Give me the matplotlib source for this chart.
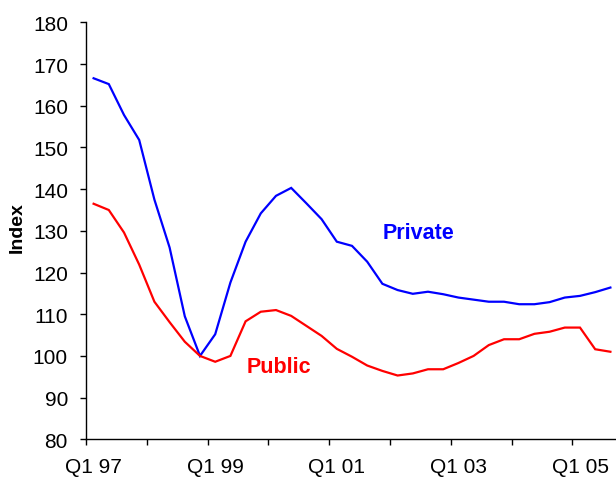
import matplotlib
matplotlib.use("Agg")
import matplotlib.pyplot as plt
from matplotlib.ticker import FixedLocator, FixedFormatter

plt.rcParams['font.family'] = ['Liberation Sans', 'DejaVu Sans']

quarters = [
    "Q1 97", "Q2 97", "Q3 97", "Q4 97",
    "Q1 98", "Q2 98", "Q3 98", "Q4 98",
    "Q1 99", "Q2 99", "Q3 99", "Q4 99",
    "Q1 00", "Q2 00", "Q3 00", "Q4 00",
    "Q1 01", "Q2 01", "Q3 01", "Q4 01",
    "Q1 02", "Q2 02", "Q3 02", "Q4 02",
    "Q1 03", "Q2 03", "Q3 03", "Q4 03",
    "Q1 04", "Q2 04", "Q3 04", "Q4 04",
    "Q1 05", "Q2 05", "Q3 05",
]

private = [166.6, 165.2, 157.8, 151.8, 137.5, 126.0, 109.5, 100.0,
           105.2, 117.6, 127.4, 134.2, 138.4, 140.3, 136.6, 132.8,
           127.4, 126.4, 122.6, 117.3, 115.8, 114.9, 115.4, 114.8,
           114.0, 113.5, 113.0, 113.0, 112.4, 112.4, 112.9, 114.0,
           114.4, 115.3, 116.4]

public = [136.5, 135.0, 129.6, 121.9, 113.0, 108.1, 103.4, 100.0,
          98.6, 100.0, 108.3, 110.6, 111.0, 109.6, 107.2, 104.8,
          101.7, 99.8, 97.7, 96.4, 95.3, 95.8, 96.8, 96.8,
          98.3, 100.0, 102.6, 104.0, 104.0, 105.3, 105.8, 106.8,
          106.8, 101.6, 101.0]

y_ticks = [80, 90, 100, 110, 120, 130, 140, 150, 160, 170, 180]

W, H = 616, 481
fig = plt.figure(figsize=(W / 100, H / 100), dpi=100)
ax = fig.add_axes([86 / W, (H - 440.3) / H, 532 / W, (440.3 - 23.4) / H])

x = list(range(len(quarters)))
ax.plot(x, private, color='#0000FF', lw=1.6, solid_joinstyle='miter')
ax.plot(x, public, color='#FF0000', lw=1.6, solid_joinstyle='miter')

ax.set_xlim(-0.5, len(quarters) - 0.5)
ax.set_ylim(80, 180)

# category axis: tick marks between categories every year, labels every two years
label_idx = [i for i, q in enumerate(quarters) if q.startswith("Q1") and int(q[-2:]) % 2 == 1]
ax.xaxis.set_major_locator(FixedLocator(label_idx))
ax.xaxis.set_major_formatter(FixedFormatter([quarters[i] for i in label_idx]))
ax.xaxis.set_minor_locator(FixedLocator([i - 0.5 for i in range(0, len(quarters) + 1, 4)]))
ax.tick_params(axis='x', which='major', length=0, pad=13, labelsize=15)
ax.tick_params(axis='x', which='minor', length=4, width=1, direction='out', color='#000000')

ax.set_yticks(y_ticks)
ax.tick_params(axis='y', length=4, width=1, direction='out', pad=9, labelsize=15)

for side in ('top', 'right'):
    ax.spines[side].set_visible(False)
for side in ('left', 'bottom'):
    ax.spines[side].set_linewidth(1)
    ax.spines[side].set_color('#000000')

ax.text(21.4, 128.4, "Private", color='#0000FF', fontsize=15.5, fontweight='bold',
        ha='center', va='baseline')
ax.text(12.2, 96.1, "Public", color='#FF0000', fontsize=15.5, fontweight='bold',
        ha='center', va='baseline')

fig.text(17 / W, 1 - 227.5 / H, "Index", rotation=90, fontsize=14, fontweight='bold',
         ha='center', va='center')

fig.savefig("out.png", dpi=100)
